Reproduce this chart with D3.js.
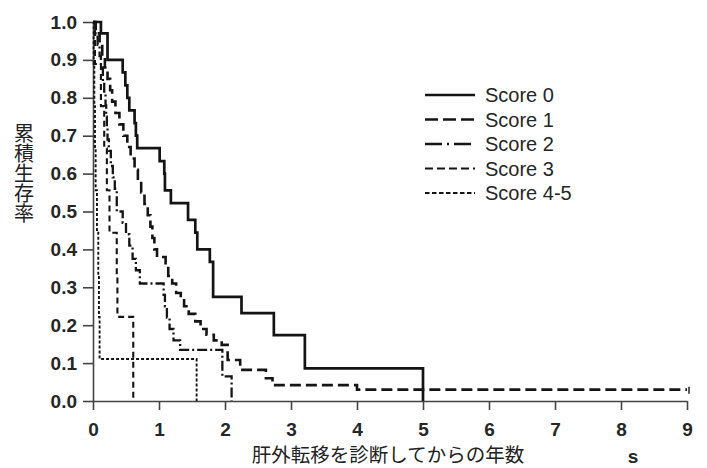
<!DOCTYPE html>
<html>
<head>
<meta charset="utf-8">
<script src="https://cdn.jsdelivr.net/npm/d3@7"></script>
<style>
  html, body { margin: 0; padding: 0; background: #fff; }
  svg { display: block; }
  text { font-family: "Liberation Sans", Arial, sans-serif; }
</style>
</head>
<body>
<svg id="chart" width="707" height="468"></svg>
<script>
// ---- data ----
const seriesNames = ["Score 0", "Score 1", "Score 2", "Score 3", "Score 4-5"];

const score0Time = [0, 0.12, 0.22, 0.45, 0.49, 0.52, 0.55, 0.63, 0.65, 0.67, 1.01, 1.08, 1.09, 1.18, 1.44, 1.55, 1.58, 1.77, 1.82, 2.25, 2.74, 3.21, 5.0];
const score0Surv = [1.0, 0.97, 0.90, 0.867, 0.833, 0.80, 0.767, 0.733, 0.70, 0.667, 0.633, 0.60, 0.556, 0.522, 0.478, 0.444, 0.40, 0.367, 0.275, 0.232, 0.174, 0.086, 0];

const score1Time = [0, 0.04, 0.10, 0.14, 0.18, 0.22, 0.26, 0.29, 0.34, 0.40, 0.46, 0.52, 0.57, 0.63, 0.68, 0.73, 0.78, 0.83, 0.87, 0.90, 0.93, 0.97, 1.10, 1.14, 1.20, 1.26, 1.33, 1.38, 1.45, 1.55, 1.63, 1.72, 1.83, 1.95, 2.04, 2.23, 2.62, 2.72, 4.00, 9.0];
const score1Surv = [1.0, 0.97, 0.94, 0.91, 0.88, 0.85, 0.82, 0.79, 0.76, 0.73, 0.70, 0.67, 0.64, 0.61, 0.58, 0.55, 0.52, 0.49, 0.46, 0.43, 0.40, 0.38, 0.355, 0.33, 0.31, 0.285, 0.27, 0.25, 0.23, 0.21, 0.19, 0.175, 0.16, 0.148, 0.108, 0.082, 0.06, 0.042, 0.03, 0.03];

const score2Time = [0, 0.04, 0.07, 0.10, 0.12, 0.15, 0.17, 0.19, 0.20, 0.21, 0.22, 0.24, 0.27, 0.30, 0.33, 0.36, 0.45, 0.50, 0.55, 0.60, 0.65, 0.71, 1.07, 1.09, 1.12, 1.16, 1.22, 1.32, 1.96, 2.10];
const score2Surv = [1.0, 0.97, 0.94, 0.91, 0.88, 0.84, 0.81, 0.78, 0.75, 0.72, 0.69, 0.66, 0.62, 0.59, 0.56, 0.50, 0.47, 0.44, 0.41, 0.375, 0.345, 0.31, 0.28, 0.25, 0.22, 0.19, 0.16, 0.135, 0.065, 0];

const score3Time = [0, 0.03, 0.12, 0.17, 0.21, 0.25, 0.36, 0.37, 0.61];
const score3Surv = [1.0, 0.889, 0.778, 0.667, 0.556, 0.444, 0.333, 0.222, 0];

const score45Time = [0, 0.01, 0.02, 0.03, 0.04, 0.06, 0.08, 0.09, 0.10, 1.57];
const score45Surv = [1.0, 0.889, 0.778, 0.667, 0.556, 0.444, 0.333, 0.222, 0.111, 0];

const xTicks = [0, 1, 2, 3, 4, 5, 6, 7, 8, 9];
const yTicks = [0, 0.1, 0.2, 0.3, 0.4, 0.5, 0.6, 0.7, 0.8, 0.9, 1.0];

const yLabel = "累積生存率";
const xLabel = "肝外転移を診断してからの年数";
const unitLabel = "s";

// ---- drawing ----
const svg = d3.select("#chart");
const x = d3.scaleLinear().domain([0, 9]).range([93, 687]);
const y = d3.scaleLinear().domain([0, 1]).range([401, 22]);

const styles = [
  { dash: null, width: 2.7 },
  { dash: "11,5", width: 2.6 },
  { dash: "10,3,2,3", width: 2.3 },
  { dash: "6,4", width: 2.1 },
  { dash: "3,2", width: 1.9 }
];
const legendDash = [null, "13,5", "17,5,2,5", "8,4", "4.5,2.5"];

const series = [
  { t: score0Time, s: score0Surv },
  { t: score1Time, s: score1Surv },
  { t: score2Time, s: score2Surv },
  { t: score3Time, s: score3Surv },
  { t: score45Time, s: score45Surv }
].map((d, i) => ({ name: seriesNames[i], pts: d.t.map((t, k) => [t, d.s[k]]) }));

// axes
const yAxis = d3.axisLeft(y).tickValues(yTicks).tickFormat(d3.format(".1f"))
  .tickSize(10).tickSizeOuter(0).tickPadding(6);
const xAxis = d3.axisBottom(x).tickValues(xTicks).tickFormat(d3.format("d"))
  .tickSize(9).tickSizeOuter(0).tickPadding(13);

const gy = svg.append("g").attr("transform", "translate(93,0)").call(yAxis);
const gx = svg.append("g").attr("transform", "translate(0,401)").call(xAxis);
[gx, gy].forEach(g => {
  g.selectAll("path.domain").attr("stroke", "#444").attr("stroke-width", 1.6);
  g.selectAll(".tick line").attr("stroke", "#444").attr("stroke-width", 1.6);
  g.selectAll(".tick text").attr("fill", "#262626")
    .style("font-family", '"Liberation Sans", Arial, sans-serif')
    .style("font-size", "19px").style("font-weight", "bold");
});

// curves
const line = d3.line().x(d => x(d[0])).y(d => y(d[1])).curve(d3.curveStepAfter);
svg.append("g").selectAll("path").data(series).join("path")
  .attr("d", d => line(d.pts))
  .attr("fill", "none")
  .attr("stroke", "#141414")
  .attr("stroke-width", (d, i) => styles[i].width)
  .attr("stroke-dasharray", (d, i) => styles[i].dash);

// censor mark at end of Score 1
const s1last = series[1].pts[series[1].pts.length - 1];
svg.append("line")
  .attr("x1", x(s1last[0]) + 2).attr("x2", x(s1last[0]) + 2)
  .attr("y1", y(s1last[1]) - 3).attr("y2", y(s1last[1]) + 4)
  .attr("stroke", "#222").attr("stroke-width", 1.5);

// legend
const lg = svg.append("g");
seriesNames.forEach((name, i) => {
  const cy = 95 + i * 24.5;
  lg.append("line").attr("x1", 425).attr("x2", 475).attr("y1", cy).attr("y2", cy)
    .attr("stroke", "#141414").attr("stroke-width", styles[i].width)
    .attr("stroke-dasharray", legendDash[i]);
  lg.append("text").attr("x", 485).attr("y", cy + 7.2)
    .attr("fill", "#262626").style("font-size", "20px").text(name);
});

// axis titles
svg.append("text")
  .attr("x", 24).attr("y", 173)
  .attr("text-anchor", "middle")
  .style("writing-mode", "vertical-rl")
  .style("font-family", '"Noto Sans CJK JP", sans-serif')
  .style("font-size", "20px").attr("fill", "#222")
  .text(yLabel);

svg.append("text")
  .attr("x", 388).attr("y", 462)
  .attr("text-anchor", "middle")
  .style("font-family", '"Noto Sans CJK JP", sans-serif')
  .style("font-size", "19.5px").attr("fill", "#222")
  .text(xLabel);

svg.append("text")
  .attr("x", 633).attr("y", 463)
  .attr("text-anchor", "middle")
  .style("font-size", "19px").style("font-weight", "bold").attr("fill", "#262626")
  .text(unitLabel);
</script>
</body>
</html>
